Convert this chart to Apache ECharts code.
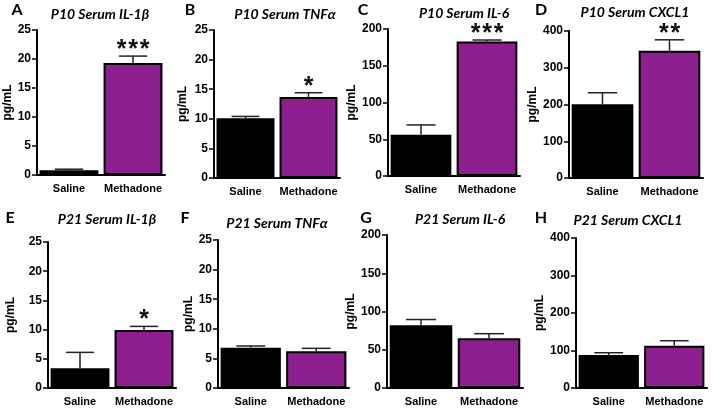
<!DOCTYPE html>
<html><head><meta charset="utf-8">
<script src="https://cdn.jsdelivr.net/npm/echarts@6/dist/echarts.min.js"></script>
<style>html,body{margin:0;padding:0;background:#fff}#c{width:714px;height:409px}</style>
</head><body><div id="c"></div>
<script>
const categories = ['Saline', 'Methadone'];
const panelLetters = ['A','B','C','D','E','F','G','H'];
const panelTitles = ['P10 Serum IL-1β','P10 Serum TNFα','P10 Serum IL-6','P10 Serum CXCL1',
                     'P21 Serum IL-1β','P21 Serum TNFα','P21 Serum IL-6','P21 Serum CXCL1'];
const meanA = [0.8, 19.3],  semA = [0.2, 1.2];
const meanB = [10.1, 13.7], semB = [0.3, 0.7];
const meanC = [56, 183],    semC = [13.5, 2];
const meanD = [201, 346],   semD = [31, 30];
const meanE = [3.4, 9.95],  semE = [2.7, 0.6];
const meanF = [6.8, 6.2],   semF = [0.3, 0.5];
const meanG = [82, 65],     semG = [7.5, 6];
const meanH = [88, 113],    semH = [6, 13];
const starsA = ['', '***'], starsB = ['', '*'], starsC = ['', '***'], starsD = ['', '**'];
const starsE = ['', '*'],   starsF = ['', ''],  starsG = ['', ''],    starsH = ['', ''];
const yMaxes = [25, 25, 200, 400, 25, 25, 200, 400];
const yIntervals = [5, 5, 50, 100, 5, 5, 50, 100];

const means = [meanA, meanB, meanC, meanD, meanE, meanF, meanG, meanH];
const sems = [semA, semB, semC, semD, semE, semF, semG, semH];
const stars = [starsA, starsB, starsC, starsD, starsE, starsF, starsG, starsH];

// layout (pixels)
const grids = [
  [37, 30, 128, 145], [214, 30, 126, 148], [388, 29, 132, 147], [569, 31, 134, 147],
  [48, 242, 128, 146], [218, 240, 131, 148], [387, 235, 136, 153], [576, 238, 131, 150]
];
const titlePos = [[100, 14], [285, 14], [464, 13], [635, 12], [107, 219], [277, 223], [460, 219], [628, 220]];
const letterPos = [[17, 10], [190, 10], [363, 10], [541, 10], [10, 218], [185, 218], [366, 218], [541, 218]];
const nameGaps = [23, 25, 22, 23, 31, 23, 19, 26];
const barColors = ['#000000', '#8E1F8E'];

const FONT = 'Liberation Sans, Arial, sans-serif';
const option = { animation: false, grid: [], xAxis: [], yAxis: [], series: [], graphic: [] };

for (let i = 0; i < 8; i++) {
  const g = grids[i];
  option.grid.push({ left: g[0], top: g[1], width: g[2], height: g[3], containLabel: false });
  option.xAxis.push({
    type: 'category', gridIndex: i, data: categories,
    axisLine: { lineStyle: { color: '#000', width: 2 } },
    axisTick: { alignWithLabel: true, length: 5, lineStyle: { color: '#000', width: 1.5 } },
    axisLabel: { interval: 0, hideOverlap: false, color: '#000', fontFamily: FONT, fontWeight: 'bold', fontSize: 11, margin: 8 }
  });
  option.yAxis.push({
    type: 'value', gridIndex: i, min: 0, max: yMaxes[i], interval: yIntervals[i],
    name: 'pg/mL', nameLocation: 'middle', nameGap: nameGaps[i],
    nameTextStyle: { color: '#000', fontFamily: FONT, fontWeight: 'bold', fontSize: 12 },
    axisLine: { show: true, lineStyle: { color: '#000', width: 2 } },
    axisTick: { show: true, length: 5, lineStyle: { color: '#000', width: 1.5 } },
    axisLabel: { color: '#000', fontFamily: FONT, fontWeight: 'bold', fontSize: 12, margin: 6 },
    splitLine: { show: false }
  });
  option.series.push({
    type: 'bar', xAxisIndex: i, yAxisIndex: i, barCategoryGap: '8%',
    data: means[i].map((v, k) => ({ value: v, itemStyle: { color: barColors[k], borderColor: '#000', borderWidth: 2 } })),
    z: 2
  });
  const ebData = means[i].map((v, k) => [k, v, sems[i][k], stars[i][k]]);
  option.series.push({
    type: 'custom', xAxisIndex: i, yAxisIndex: i, z: 5, silent: true,
    data: ebData,
    renderItem: function (params, api) {
      const k = api.value(0), m = api.value(1), s = api.value(2);
      const star = ebData[params.dataIndex][3];
      const p0 = api.coord([k, m]);
      const p1 = api.coord([k, m + s]);
      const band = api.size([1, 0])[0];
      const hw = band * 0.22;
      const children = [
        { type: 'line', shape: { x1: p0[0], y1: p0[1], x2: p1[0], y2: p1[1] }, style: { stroke: '#222', lineWidth: 1.5 } },
        { type: 'line', shape: { x1: p1[0] - hw, y1: p1[1], x2: p1[0] + hw, y2: p1[1] }, style: { stroke: '#222', lineWidth: 1.5 } }
      ];
      const n = star.length, step = 11.5;
      for (let j = 0; j < n; j++) {
        children.push({ type: 'text', x: p1[0] + (j - (n - 1) / 2) * step, y: p1[1] - 6,
          style: { text: '*', fill: '#111', font: 'bold 25px ' + FONT, textAlign: 'center', textVerticalAlign: 'middle' } });
      }
      return { type: 'group', children: children };
    }
  });
  option.graphic.push({ type: 'text', x: titlePos[i][0], y: titlePos[i][1],
    style: { text: panelTitles[i], fill: '#000', font: 'italic bold 14px Lato, "Open Sans", sans-serif', textAlign: 'center', textVerticalAlign: 'middle' } });
  option.graphic.push({ type: 'text', x: letterPos[i][0], y: letterPos[i][1],
    style: { text: panelLetters[i], fill: '#000', font: 'bold 16px Lato, "Open Sans", sans-serif', textAlign: 'center', textVerticalAlign: 'middle' } });
}

const chart = echarts.init(document.getElementById('c'), null, { renderer: 'canvas' });
chart.setOption(option);
</script></body></html>
